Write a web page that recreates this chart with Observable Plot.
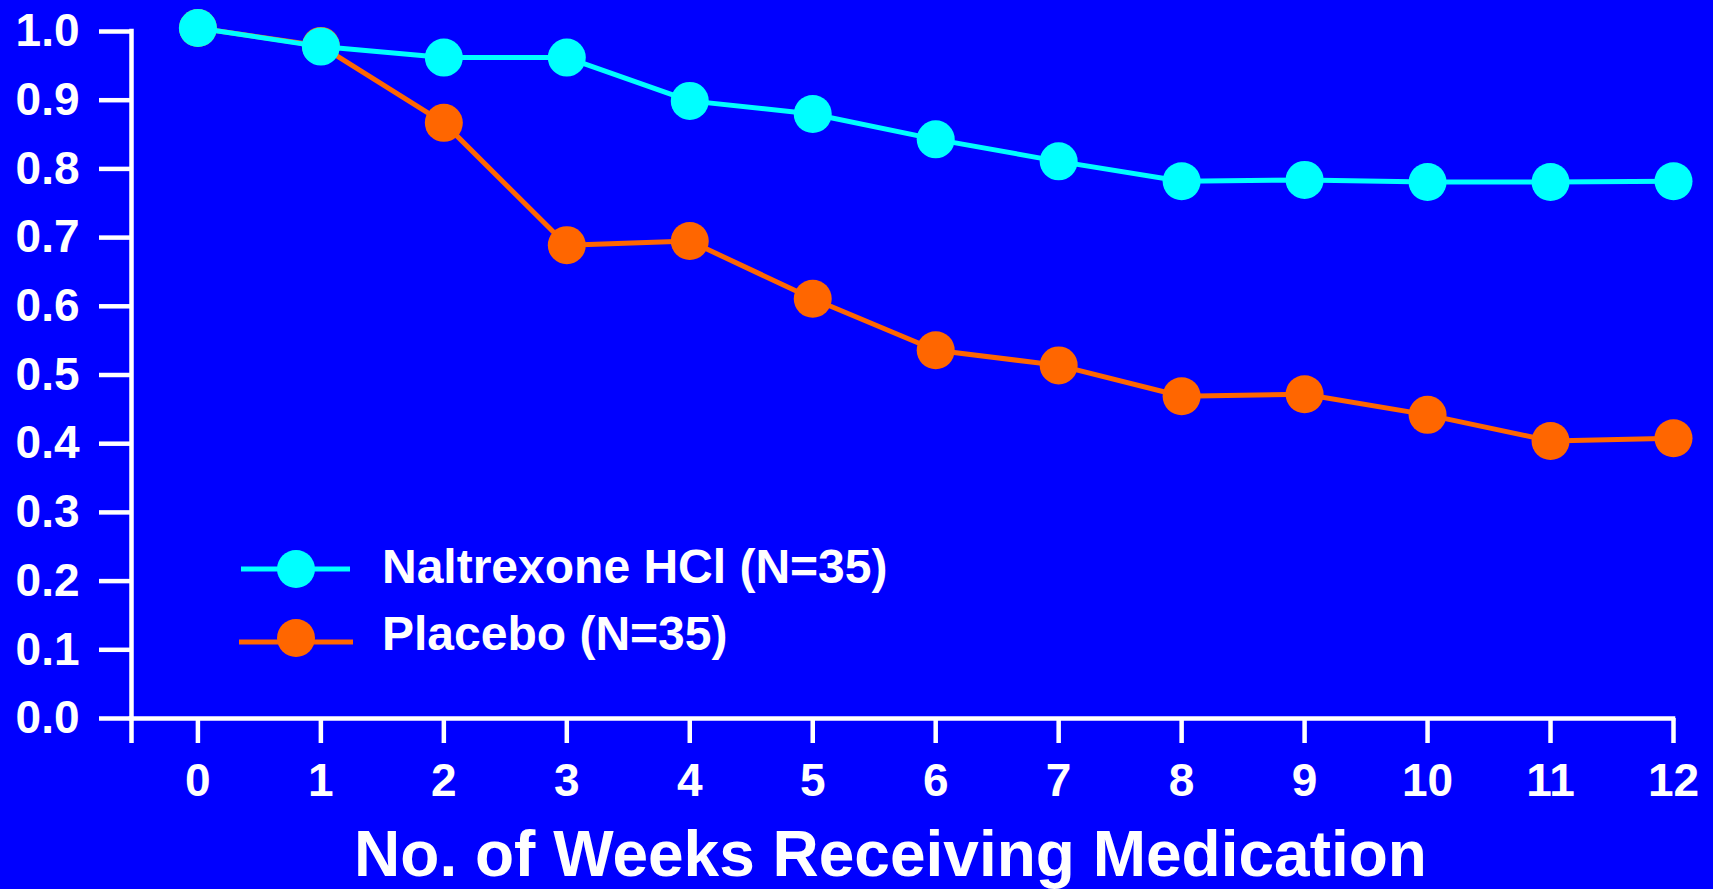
<!DOCTYPE html>
<html><head><meta charset="utf-8">
<script src="https://cdn.jsdelivr.net/npm/d3@7"></script>
<script src="https://cdn.jsdelivr.net/npm/@observablehq/plot@0.6"></script>
<style>
html,body{margin:0;padding:0;background:#0000FF;overflow:hidden}
#chart{position:relative;width:1713px;height:889px}
</style></head><body><div id="chart"></div>
<script>
const weeks = [0,1,2,3,4,5,6,7,8,9,10,11,12];
const naltrexone = [1.005,0.978,0.962,0.962,0.899,0.880,0.843,0.811,0.782,0.784,0.781,0.781,0.782];
const placebo = [1.005,0.979,0.867,0.689,0.695,0.611,0.536,0.514,0.469,0.472,0.442,0.404,0.408];
const seriesNames = ["Naltrexone HCl (N=35)", "Placebo (N=35)"];
const seriesColors = ["#00FFFF", "#FF6600"];
const yTicks = [0,0.1,0.2,0.3,0.4,0.5,0.6,0.7,0.8,0.9,1.0];
const xTicks = [0,1,2,3,4,5,6,7,8,9,10,11,12];
const xTitle = ["No. of Weeks Receiving Medication"];

const xMin = -0.54;
const font = "'Liberation Sans', Arial, Helvetica, sans-serif";
const naltRows = weeks.map((w,i)=>({week:w, value:naltrexone[i]}));
const placRows = weeks.map((w,i)=>({week:w, value:placebo[i]}));

const plot = Plot.plot({
  width:1713, height:889,
  marginLeft:131, marginRight:40, marginTop:31, marginBottom:171,
  style:{background:"#0000FF", color:"white", fontFamily:font, fontWeight:"bold", overflow:"visible"},
  x:{domain:[xMin,12]},
  y:{domain:[0,1]},
  marks:[
    Plot.ruleY([0],{x1:xMin, x2:12, stroke:"white", strokeWidth:4.5, strokeLinecap:"square"}),
    Plot.ruleX([xMin],{y1:0, y2:1, stroke:"white", strokeWidth:4.5, strokeLinecap:"square"}),
    Plot.axisY({ticks:yTicks, tickSize:32, tickPadding:20, tickFormat:d3.format(".1f"), fontSize:46, strokeWidth:4.5, label:null, color:"white"}),
    Plot.axisX({ticks:[xMin, ...xTicks], tickSize:25, tickPadding:20, tickFormat:d => d < 0 ? "" : String(d), fontSize:46, strokeWidth:4.5, label:null, color:"white"}),
    Plot.text(xTitle, {text:d=>d, frameAnchor:"bottom", lineAnchor:"top", dx:-12, dy:112, fontSize:64, fill:"white"}),
    Plot.line(placRows, {x:"week", y:"value", stroke:seriesColors[1], strokeWidth:5}),
    Plot.dot(placRows, {x:"week", y:"value", r:19, fill:seriesColors[1]}),
    Plot.line(naltRows, {x:"week", y:"value", stroke:seriesColors[0], strokeWidth:5}),
    Plot.dot(naltRows, {x:"week", y:"value", r:19, fill:seriesColors[0]})
  ]
});

// legend inside the plot area
const svg = d3.select(plot);
const lg = svg.append("g").attr("font-family", font).attr("font-weight","bold").attr("text-anchor","start");
const legendLayout = [
  {lx1:241, lx2:350, ly:569, cx:296, cy:569, tx:382, ty:583},
  {lx1:239, lx2:353, ly:642, cx:296, cy:638, tx:382, ty:650}
];
seriesNames.forEach((name,i)=>{
  const L = legendLayout[i];
  lg.append("line").attr("x1",L.lx1).attr("x2",L.lx2).attr("y1",L.ly).attr("y2",L.ly)
    .attr("stroke",seriesColors[i]).attr("stroke-width",5);
  lg.append("circle").attr("cx",L.cx).attr("cy",L.cy).attr("r",19).attr("fill",seriesColors[i]);
  lg.append("text").attr("x",L.tx).attr("y",L.ty).attr("fill","white").attr("font-size",48)
    .attr("text-anchor","start").text(name);
});

document.getElementById("chart").appendChild(plot);
</script>
</body></html>
